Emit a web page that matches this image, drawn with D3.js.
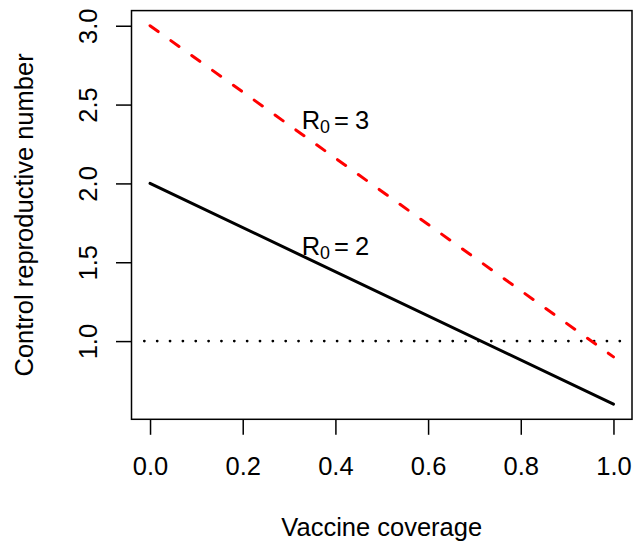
<!DOCTYPE html>
<meta charset="utf-8">
<style>
    body { margin: 0; background: #fff; }
    svg text { font-family: "Liberation Sans", Arial, Helvetica, sans-serif; fill: #000; }
</style>
<svg width="633" height="542"></svg>
<script src="https://cdnjs.cloudflare.com/ajax/libs/d3/7.8.5/d3.min.js"></script>
<script>

// values
var coverage = [0, 1];
var rcR0two = [2.0, 0.6];
var rcR0three = [3.0, 0.9];
var threshold = 1.0;

var xTicks = [0, 0.2, 0.4, 0.6, 0.8, 1.0];
var yTicks = [1.0, 1.5, 2.0, 2.5, 3.0];

var labels = [
    {sub: "0", val: "3", x: 0.4, y: 2.4},
    {sub: "0", val: "2", x: 0.4, y: 1.6}
];

var svg = d3.select("svg"),
    fs = 25.5;

// plot region (R style 4% padding)
var x = d3.scaleLinear().domain([-0.04, 1.04]).range([131.5, 632]);
var y = d3.scaleLinear().domain([0.504, 3.096]).range([419.3, 10.6]);

var fmt = d3.format(".1f");

// x axis
var gx = svg.append("g")
    .attr("transform", "translate(0," + y.range()[0] + ")")
    .call(d3.axisBottom(x).tickValues(xTicks).tickFormat(fmt).tickSizeOuter(0).tickSize(15.5));
gx.select(".domain").remove();
gx.selectAll(".tick line").attr("stroke", "#000").attr("stroke-width", 1.5);
gx.selectAll(".tick text")
    .attr("y", 55.7).attr("dy", null)
    .attr("font-size", fs).attr("font-family", null);

// y axis
var gy = svg.append("g")
    .attr("transform", "translate(" + x.range()[0] + ",0)")
    .call(d3.axisLeft(y).tickValues(yTicks).tickFormat(fmt).tickSizeOuter(0).tickSize(15.5));
gy.select(".domain").remove();
gy.selectAll(".tick line").attr("stroke", "#000").attr("stroke-width", 1.5);
gy.selectAll(".tick text")
    .attr("x", null).attr("dy", null)
    .attr("text-anchor", "middle")
    .attr("transform", "translate(-34.8,0) rotate(-90)")
    .attr("font-size", fs).attr("font-family", null);

// box
svg.append("rect")
    .attr("x", x.range()[0])
    .attr("y", y.range()[1])
    .attr("width", x.range()[1] - x.range()[0])
    .attr("height", y.range()[0] - y.range()[1])
    .attr("fill", "none")
    .attr("stroke", "#000")
    .attr("stroke-width", 1.5);

// dotted threshold
svg.append("line")
    .attr("x1", x.range()[0] + 0.3)
    .attr("x2", x.range()[1])
    .attr("y1", y(threshold))
    .attr("y2", y(threshold))
    .attr("stroke", "#000")
    .attr("stroke-width", 2.8)
    .attr("stroke-linecap", "round")
    .attr("stroke-dasharray", "0,12.85")
    .attr("stroke-dashoffset", -12.55 + 12.85);

var line = d3.line()
    .x(function(d) { return x(d[0]); })
    .y(function(d) { return y(d[1]); });

svg.append("path")
    .attr("d", line(d3.zip(coverage, rcR0three)))
    .attr("fill", "none")
    .attr("stroke", "#ff0000")
    .attr("stroke-width", 3)
    .attr("stroke-linecap", "round")
    .attr("stroke-dasharray", "10,15.6");

svg.append("path")
    .attr("d", line(d3.zip(coverage, rcR0two)))
    .attr("fill", "none")
    .attr("stroke", "#000")
    .attr("stroke-width", 3)
    .attr("stroke-linecap", "round");

// R0 labels
labels.forEach(function(l) {
    var t = svg.append("text")
        .attr("x", x(l.x))
        .attr("y", y(l.y))
        .attr("dy", 8.8)
        .attr("text-anchor", "middle")
        .attr("font-size", fs);
    t.append("tspan").text("R");
    t.append("tspan").attr("font-size", fs * 0.7).attr("dy", 4).text(l.sub);
    t.append("tspan").attr("dy", -4).attr("dx", 4).text("=");
    t.append("tspan").attr("dx", 6).text(l.val);
});

// axis titles
svg.append("text")
    .attr("x", (x.range()[0] + x.range()[1]) / 2)
    .attr("y", 536)
    .attr("text-anchor", "middle")
    .attr("font-size", fs)
    .text("Vaccine coverage");

svg.append("text")
    .attr("transform", "translate(32.7," + (y.range()[0] + y.range()[1]) / 2 + ") rotate(-90)")
    .attr("text-anchor", "middle")
    .attr("font-size", fs)
    .text("Control reproductive number");

</script>
